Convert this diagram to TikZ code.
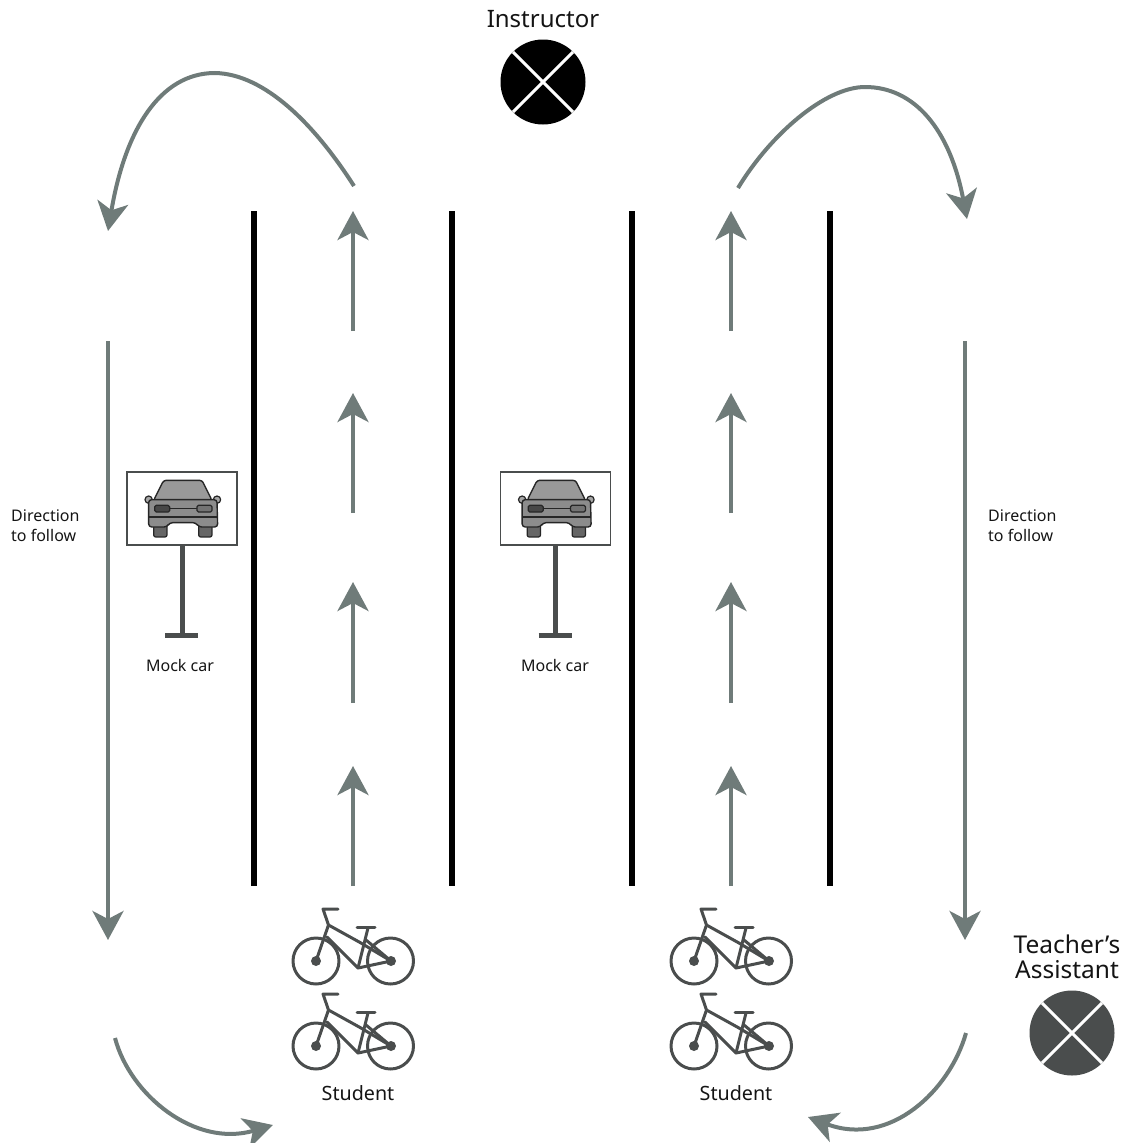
\documentclass[tikz,border=0pt]{standalone}
\usepackage{fontspec}
\setmainfont{Noto Sans}
\usetikzlibrary{arrows.meta}
\definecolor{flow}{HTML}{6F7B79}
\definecolor{ink}{HTML}{4A4D4D}
\tikzset{
 flowline/.style={draw=flow,line width=4pt,-{Stealth[length=29pt,width=31pt,inset=8pt]}},
 lane/.style={draw=black,line width=6pt},
 marker/.style={circle,fill=#1,minimum size=85pt,inner sep=0pt,outer sep=0pt},
 cross/.style={draw=white,line width=3pt},
 lab/.style={inner sep=0pt,align=center,text=black!92},
 biketube/.style={draw=ink,line width=3pt,line cap=round,line join=round},
 bike/.pic={
  \draw[biketube] (-37,0) circle (23) (37.5,0) circle (23);
  \fill[ink] (-37,0) circle (5) (38,0) circle (5);
  \draw[biketube] (-15,-52) -- (-30,-52) -- (-24.5,-36) -- (-37,0);
  \draw[biketube] (-24.5,-36) -- (8,-18) -- (38,0) -- (5,7) -- (-26,-24);
  \draw[biketube] (15,-33) -- (5,7);
  \draw[biketube] (4,-34) -- (22,-34);
  \draw[biketube] (13,-21) -- (38,0);
 },
 car/.pic={
  \begin{scope}[scale=0.3333,draw=black!85,line join=round]
   \draw[fill=black!60,line width=1.2pt,rounded corners=2pt] (80,150) rectangle (120,195);
   \draw[fill=black!60,line width=1.2pt,rounded corners=2pt] (215,150) rectangle (255,195);
   \draw[fill=black!35,line width=1.2pt] (65,83) circle (11) (270,83) circle (11);
   \draw[fill=black!40,line width=1.4pt,rounded corners=2.5pt] (80,85) -- (110,25) -- (225,25) -- (255,85) -- cycle;
   \draw[fill=black!45,line width=1.4pt,rounded corners=3pt] (65,83) -- (270,83) -- (272,165) -- (215,165) -- (207,152) -- (128,152) -- (120,165) -- (65,165) -- cycle;
   \draw[line width=1.2pt] (65,135) -- (272,135);
   \draw[line width=0.9pt] (125,110) -- (212,110);
   \draw[fill=black!72,line width=1.2pt,rounded corners=1.5pt] (83,100) rectangle (128,120);
   \draw[fill=black!55,line width=1.2pt,rounded corners=1.5pt] (210,100) rectangle (255,120);
  \end{scope}
 },
 signpic/.pic={
  \draw[draw=ink,fill=white,line width=1.3pt] (0,0) rectangle (110,73);
  \draw[ink,line width=5pt] (55,73) -- (55,163);
  \draw[ink,line width=5pt] (38,163) -- (71,163);
  \pic at (0,0) {car};
 }
}
\begin{document}
\begin{tikzpicture}[x=1pt,y=-1pt]
\useasboundingbox (0,0) rectangle (1129,1143);
\foreach \n/\x/\y in {tl/354/186,tlE/108/231,tr/738/188,trE/967/219,bl/115/1038,blE/273/1125,br/966/1033,brE/808/1117,
 ls/108/341,le/108/940,rs/965/341,re/965/940}{\coordinate (\n) at (\x,\y);}
\foreach \i/\x in {1/254,2/452,3/632,4/830}{
 \coordinate (lt\i) at (\x,211); \coordinate (lb\i) at (\x,886);
 \draw[lane] (lt\i) -- (lb\i);}
\foreach \c/\x in {a/353,b/731}{
 \foreach \k/\s/\e in {1/886/766,2/703/582,3/513/393,4/331/211}{
  \coordinate (\c s\k) at (\x,\s); \coordinate (\c e\k) at (\x,\e);
  \draw[flowline] (\c s\k) -- (\c e\k);}}
\draw[flowline] (ls) -- (le);
\draw[flowline] (rs) -- (re);
\draw[flowline] (tl) .. controls (315,125) and (265,74) .. (215,73) .. controls (160,73) and (125,130) .. (tlE);
\draw[flowline] (tr) .. controls (770,135) and (825,87) .. (865,87) .. controls (915,87) and (950,130) .. (trE);
\draw[flowline] (bl) .. controls (130,1095) and (195,1148) .. (blE);
\draw[flowline] (br) .. controls (950,1090) and (890,1148) .. (brE);
\node[marker=black] (inst) at (543,82) {};
\draw[cross] (inst.45) -- (inst.225);
\draw[cross] (inst.135) -- (inst.315);
\node[marker=ink] (ta) at (1072,1033) {};
\draw[cross] (ta.45) -- (ta.225);
\draw[cross] (ta.135) -- (ta.315);
\pic at (127,472) {signpic};
\pic at (500.5,472) {signpic};
\foreach \x in {353,731}{
 \pic at (\x,961) {bike};
 \pic at (\x,1046) {bike};}
\node[lab,font=\fontsize{24}{24}\selectfont] (t1) at (543,19) {Instructor};
\node[lab,font=\fontsize{24.5}{25.5}\selectfont] (t2) at (1067,957) {Teacher’s\\Assistant};
\node[lab,font=\fontsize{19.7}{20}\selectfont] (t3) at (358,1093) {Student};
\node[lab,font=\fontsize{19.7}{20}\selectfont] (t4) at (736,1093) {Student};
\node[lab,font=\fontsize{16}{16}\selectfont] (t5) at (180,665) {Mock car};
\node[lab,font=\fontsize{16}{16}\selectfont] (t6) at (555,665) {Mock car};
\node[lab,align=left,anchor=west,font=\fontsize{16}{19.5}\selectfont] (t7) at (11,525.5) {Direction\\to follow};
\node[lab,align=left,anchor=west,font=\fontsize{16}{19.5}\selectfont] (t8) at (988,525.5) {Direction\\to follow};
\end{tikzpicture}
\end{document}
